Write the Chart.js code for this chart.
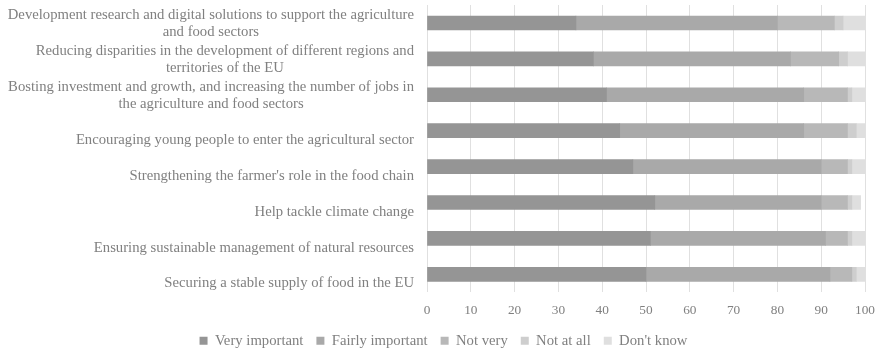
<!DOCTYPE html>
<html>
<head>
<meta charset="utf-8">
<script src="https://cdn.jsdelivr.net/npm/chart.js@4"></script>
<style>
  html, body { margin: 0; padding: 0; background: #fff; }
  #wrap { width: 879px; height: 352px; }
</style>
</head>
<body>
<div id="wrap"><canvas id="prioritiesChart"></canvas></div>
<script>
//DATA
const categories = [
  ['Development research and digital solutions to support the agriculture', 'and food sectors'],
  ['Reducing disparities in the development of different regions and', 'territories of the EU'],
  ['Bosting investment and growth, and increasing the number of jobs in', 'the agriculture and food sectors'],
  ['Encouraging young people to enter the agricultural sector'],
  ["Strengthening the farmer's role in the food chain"],
  ['Help tackle climate change'],
  ['Ensuring sustainable management of natural resources'],
  ['Securing a stable supply of food in the EU']
];
const veryImportant   = [34, 38, 41, 44, 47, 52, 51, 50];
const fairlyImportant = [46, 45, 45, 42, 43, 38, 40, 42];
const notVery         = [13, 11, 10, 10, 6, 6, 5, 5];
const notAtAll        = [2, 2, 1, 2, 1, 1, 1, 1];
const dontKnow        = [5, 4, 3, 2, 3, 2, 3, 2];
const xTicks = [0, 10, 20, 30, 40, 50, 60, 70, 80, 90, 100];

const FONT = '"Liberation Serif", "Times New Roman", serif';
const TEXT = '#808080';

// category labels: block right-aligned against the axis, lines centred inside it
const catLabels = {
  id: 'catLabels',
  afterDraw(chart) {
    const { ctx, scales: { y } } = chart;
    ctx.save();
    ctx.font = '14.7px ' + FONT;
    ctx.fillStyle = TEXT;
    ctx.textAlign = 'center';
    ctx.textBaseline = 'middle';
    categories.forEach((lines, i) => {
      const yc = y.getPixelForTick(i);
      const widest = Math.max(...lines.map(l => ctx.measureText(l).width));
      const cx = 414 - widest / 2;
      lines.forEach((line, j) => {
        ctx.fillText(line, cx, yc + 9.3 - (lines.length - 1 - j) * 16.7);
      });
    });
    ctx.restore();
  }
};

const ctx = document.getElementById('prioritiesChart');

new Chart(ctx, {
  type: 'bar',
  data: {
    labels: categories,
    datasets: [
      { label: 'Very important', data: veryImportant, backgroundColor: '#959595' },
      { label: 'Fairly important', data: fairlyImportant, backgroundColor: '#a9a9a9' },
      { label: 'Not very', data: notVery, backgroundColor: '#b8b8b8' },
      { label: 'Not at all', data: notAtAll, backgroundColor: '#cecece' },
      { label: "Don't know", data: dontKnow, backgroundColor: '#dfdfdf' }
    ]
  },
  options: {
    indexAxis: 'y',
    responsive: true,
    maintainAspectRatio: false,
    animation: false,
    barThickness: 14,
    borderWidth: 0,
    layout: { padding: { top: 5, right: 14, bottom: -6, left: 22 } },
    scales: {
      x: {
        stacked: true,
        min: 0,
        max: 100,
        afterBuildTicks: s => { s.ticks = xTicks.map(v => ({ value: v })); },
        ticks: { color: TEXT, font: { family: FONT, size: 13.3 }, padding: 10 },
        grid: { color: '#e0e0e0', drawTicks: false },
        border: { display: false },
        afterFit: s => { s.height = 28; s.paddingRight = 0; s.paddingLeft = 0; }
      },
      y: {
        stacked: true,
        ticks: { display: false },
        grid: { display: false },
        border: { display: false },
        afterFit: s => { s.width = 405; }
      }
    },
    plugins: {
      legend: {
        position: 'bottom',
        labels: {
          color: TEXT,
          font: { family: FONT, size: 14.7 },
          boxWidth: 8,
          boxHeight: 8,
          padding: 13
        }
      },
      tooltip: { enabled: false }
    }
  },
  plugins: [catLabels]
});
</script>
</body>
</html>
